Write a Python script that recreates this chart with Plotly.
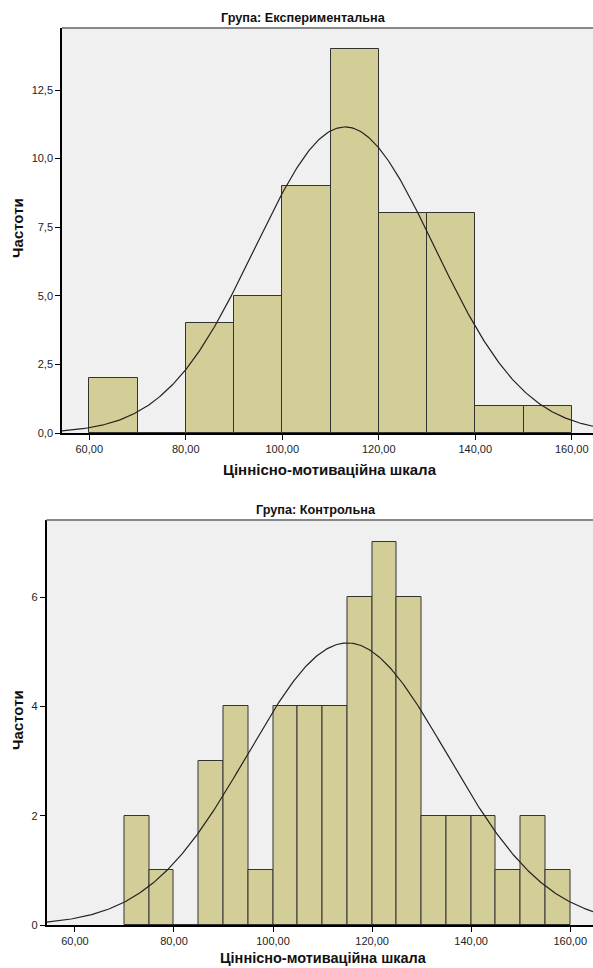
import numpy as np
import plotly.graph_objects as go

# ---- data ----
exp_bin_starts = [60, 70, 80, 90, 100, 110, 120, 130, 140, 150]
exp_counts = [2, 0, 4, 5, 9, 14, 8, 8, 1, 1]
exp_bin_width = 10
exp_mean, exp_sd = 113.0, 18.6

ctl_bin_starts = [70, 75, 80, 85, 90, 95, 100, 105, 110, 115, 120, 125, 130, 135, 140, 145, 150, 155]
ctl_counts = [2, 1, 0, 3, 4, 1, 4, 4, 4, 6, 7, 6, 2, 2, 2, 1, 2, 1]
ctl_bin_width = 5
ctl_mean, ctl_sd = 115.0, 20.1

x_ticks = [60, 80, 100, 120, 140, 160]
x_ticklabels = ["60,00", "80,00", "100,00", "120,00", "140,00", "160,00"]
exp_y_ticks = [0, 2.5, 5, 7.5, 10, 12.5]
exp_y_ticklabels = ["0,0", "2,5", "5,0", "7,5", "10,0", "12,5"]
ctl_y_ticks = [0, 2, 4, 6]
ctl_y_ticklabels = ["0", "2", "4", "6"]

titles = ["Група: Експериментальна", "Група: Контрольна"]
x_title = "Ціннісно-мотиваційна шкала"
y_title = "Частоти"

W, H = 593, 968
BAR_FILL = "#D3CE97"
BAR_LINE = "#333333"
FONT = "Liberation Sans, Arial, sans-serif"

def fy(py):
    return (H - py) / H

def fx(px):
    return px / W

fig = go.Figure()

def add_panel(idx, starts, counts, bw, mean, sd, xr, yr, xdom, ydom, yt, ytl):
    xa = "x" if idx == 1 else f"x{idx}"
    ya = "y" if idx == 1 else f"y{idx}"
    centers = [s + bw / 2 for s in starts]
    fig.add_trace(go.Bar(x=centers, y=counts, width=bw, xaxis=xa, yaxis=ya,
                         marker=dict(color=BAR_FILL, line=dict(color=BAR_LINE, width=1)),
                         showlegend=False, hoverinfo="x+y"))
    n = sum(counts)
    xs = np.linspace(xr[0], xr[1], 400)
    ys = n * bw / (sd * np.sqrt(2 * np.pi)) * np.exp(-0.5 * ((xs - mean) / sd) ** 2)
    fig.add_trace(go.Scatter(x=xs, y=ys, mode="lines", xaxis=xa, yaxis=ya,
                             line=dict(color="#222222", width=1.2), showlegend=False,
                             hoverinfo="skip"))
    axkey = "xaxis" if idx == 1 else f"xaxis{idx}"
    aykey = "yaxis" if idx == 1 else f"yaxis{idx}"
    fig.update_layout(**{
        axkey: dict(domain=xdom, range=xr, anchor=ya, tickvals=x_ticks, ticktext=x_ticklabels,
                    ticks="outside", ticklen=5, tickcolor="#000", showline=True, linecolor="#000",
                    linewidth=1.5, showgrid=False, zeroline=False, automargin=False,
                    tickfont=dict(family=FONT, size=11, color="#222")),
        aykey: dict(domain=ydom, range=yr, anchor=xa, tickvals=yt, ticktext=ytl,
                    ticks="outside", ticklen=5, tickcolor="#000", showline=True, linecolor="#000",
                    linewidth=1.5, showgrid=False, zeroline=False, automargin=False,
                    tickfont=dict(family=FONT, size=11, color="#222")),
    })

# top panel: plot area x 62..593, y 28..433
add_panel(1, exp_bin_starts, exp_counts, exp_bin_width, exp_mean, exp_sd,
          [54.35, 164.4], [0, 14.76], [fx(62), 1.0], [fy(433), fy(28)],
          exp_y_ticks, exp_y_ticklabels)
# bottom panel: plot area x 46.5..593, y 520..925
add_panel(2, ctl_bin_starts, ctl_counts, ctl_bin_width, ctl_mean, ctl_sd,
          [54.26, 164.6], [0, 7.41], [fx(46.5), 1.0], [fy(925), fy(520)],
          ctl_y_ticks, ctl_y_ticklabels)

shapes = []
for (x0, ytop, ybot) in [(62, 28, 433), (46.5, 520, 925)]:
    shapes.append(dict(type="rect", xref="paper", yref="paper", x0=fx(x0), x1=1.0,
                       y0=fy(ybot), y1=fy(ytop), fillcolor="#F0F0F0", line=dict(width=0),
                       layer="below"))
    shapes.append(dict(type="line", xref="paper", yref="paper", x0=fx(x0), x1=1.0,
                       y0=fy(ytop), y1=fy(ytop), line=dict(color="#888888", width=2)))

annotations = [
    dict(text=f"<b>{titles[0]}</b>", x=fx(303), y=fy(18), xref="paper", yref="paper",
         showarrow=False, font=dict(family=FONT, size=12.7, color="#111"), xanchor="center", yanchor="middle"),
    dict(text=f"<b>{titles[1]}</b>", x=fx(316), y=fy(510), xref="paper", yref="paper",
         showarrow=False, font=dict(family=FONT, size=12.7, color="#111"), xanchor="center", yanchor="middle"),
    dict(text=f"<b>{x_title}</b>", x=fx(330), y=fy(469), xref="paper", yref="paper",
         showarrow=False, font=dict(family=FONT, size=15, color="#111"), xanchor="center", yanchor="middle"),
    dict(text=f"<b>{x_title}</b>", x=fx(323), y=fy(958), xref="paper", yref="paper",
         showarrow=False, font=dict(family=FONT, size=14.5, color="#111"), xanchor="center", yanchor="middle"),
    dict(text=f"<b>{y_title}</b>", x=fx(17), y=fy(228), xref="paper", yref="paper", textangle=-90,
         showarrow=False, font=dict(family=FONT, size=15, color="#111"), xanchor="center", yanchor="middle"),
    dict(text=f"<b>{y_title}</b>", x=fx(17), y=fy(720), xref="paper", yref="paper", textangle=-90,
         showarrow=False, font=dict(family=FONT, size=15, color="#111"), xanchor="center", yanchor="middle"),
]

fig.update_layout(width=W, height=H, margin=dict(l=0, r=0, t=0, b=0),
                  paper_bgcolor="white", plot_bgcolor="rgba(0,0,0,0)",
                  shapes=shapes, annotations=annotations, bargap=0,
                  font=dict(family=FONT))

fig.write_html("out.html")
